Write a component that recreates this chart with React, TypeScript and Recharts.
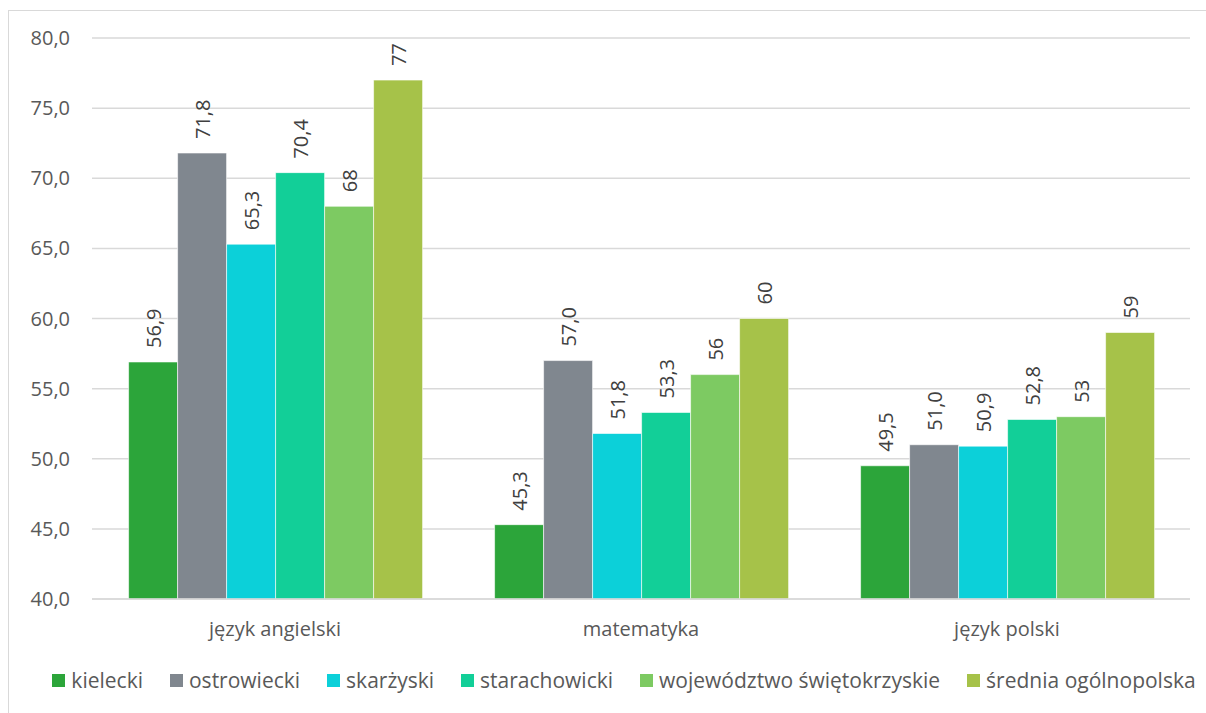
import { BarChart, Bar, XAxis, YAxis, CartesianGrid, Legend, LabelList } from 'recharts';

const subjects = ['język angielski', 'matematyka', 'język polski'];

const kielecki = [56.9, 45.3, 49.5];
const ostrowiecki = [71.8, 57.0, 51.0];
const skarzyski = [65.3, 51.8, 50.9];
const starachowicki = [70.4, 53.3, 52.8];
const wojewodztwo = [68, 56, 53];
const srednia = [77, 60, 59];

const yTicks = [40, 45, 50, 55, 60, 65, 70, 75, 80];

const series = [
    { key: 'kielecki', name: 'kielecki', values: kielecki, color: '#2ca53a', decimals: 1 },
    { key: 'ostrowiecki', name: 'ostrowiecki', values: ostrowiecki, color: '#80878f', decimals: 1 },
    { key: 'skarzyski', name: 'skarżyski', values: skarzyski, color: '#0cd0d9', decimals: 1 },
    { key: 'starachowicki', name: 'starachowicki', values: starachowicki, color: '#12cf98', decimals: 1 },
    { key: 'wojewodztwo', name: 'województwo świętokrzyskie', values: wojewodztwo, color: '#7dca62', decimals: 0 },
    { key: 'srednia', name: 'średnia ogólnopolska', values: srednia, color: '#a6c249', decimals: 0 },
];

const data = subjects.map((subject, i) => {
    const row: Record<string, string | number> = { subject };
    series.forEach((s) => {
        row[s.key] = s.values[i];
    });
    return row;
});

const FONT = '"Open Sans", sans-serif';
const FS = 20;
const fmt = (v: number, d: number) => v.toFixed(d).replace('.', ',');

const makeLabel = (decimals: number) => (props: any) => {
    const { x, y, width, value } = props;
    const cx = x + width / 2;
    const ty = y - 14;
    return (
        <text
            x={cx}
            y={ty}
            transform={`rotate(-90 ${cx} ${ty})`}
            textAnchor="start"
            dominantBaseline="central"
            fill="#404040"
            fontSize={FS}
            fontFamily={FONT}
        >
            {fmt(Number(value), decimals)}
        </text>
    );
};

const LegendContent = () => (
    <div style={{ display: 'flex', justifyContent: 'center', gap: 27, fontFamily: FONT, fontSize: 21, color: '#595959', lineHeight: '26px' }}>
        {series.map((s) => (
            <div key={s.key} style={{ display: 'flex', alignItems: 'center' }}>
                <span style={{ width: 13, height: 13, background: s.color, marginRight: 6, display: 'inline-block' }} />
                <span>{s.name}</span>
            </div>
        ))}
    </div>
);

export default function App() {
    return (
        <div style={{ position: 'absolute', left: 0, top: 0, width: 1206, height: 713, overflow: 'hidden', background: '#fff' }}>
            <div
                style={{
                    position: 'absolute',
                    left: 8,
                    top: 10,
                    width: 1220,
                    height: 720,
                    border: '1.5px solid #d9d9d9',
                    boxSizing: 'border-box',
                }}
            />
            <div style={{ position: 'absolute', left: 0, top: 0 }}>
                <BarChart
                    width={1206}
                    height={713}
                    data={data}
                    margin={{ top: 38, right: 16, bottom: 38, left: 32 }}
                    barCategoryGap="10%"
                    barGap={0}
                >
                    <CartesianGrid vertical={false} stroke="#d9d9d9" strokeWidth={1.5} />
                    <XAxis
                        dataKey="subject"
                        height={50}
                        axisLine={{ stroke: '#d9d9d9', strokeWidth: 1.5 }}
                        tickLine={false}
                        tick={{ fill: '#595959', fontSize: FS, fontFamily: FONT }}
                        tickMargin={17}
                    />
                    <YAxis
                        domain={[40, 80]}
                        ticks={yTicks}
                        width={60}
                        axisLine={false}
                        tickLine={false}
                        tickFormatter={(v: number) => fmt(v, 1)}
                        tick={{ fill: '#595959', fontSize: FS, fontFamily: FONT }}
                        tickMargin={16}
                        allowDataOverflow
                    />
                    <Legend
                        content={<LegendContent />}
                        wrapperStyle={{ left: 36, width: 1176, top: 667 }}
                    />
                    {series.map((s) => (
                        <Bar
                            key={s.key}
                            dataKey={s.key}
                            name={s.name}
                            fill={s.color}
                            stroke="#ffffff"
                            strokeWidth={0.6}
                            isAnimationActive={false}
                        >
                            <LabelList dataKey={s.key} content={makeLabel(s.decimals)} />
                        </Bar>
                    ))}
                </BarChart>
            </div>
        </div>
    );
}
